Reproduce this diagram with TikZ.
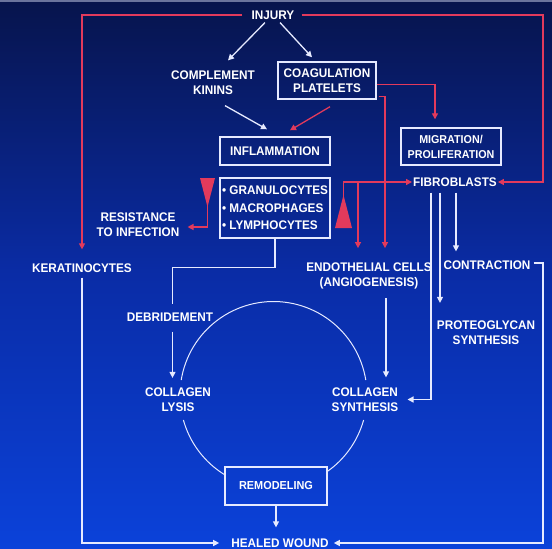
\documentclass[tikz,border=0pt]{standalone}
\usepackage{fontspec}
\newfontfamily\labfont{Liberation Sans}[FakeStretch=0.94]
\usetikzlibrary{arrows.meta,calc}
\definecolor{bgtop}{HTML}{07144C}
\definecolor{bgmid}{HTML}{0A2CA6}
\definecolor{bgbot}{HTML}{0B42DA}
\definecolor{lnw}{HTML}{E6EAFF}
\definecolor{lnr}{HTML}{E23A5C}
\begin{document}
\begin{tikzpicture}[x=1pt,y=-1pt,
  lbl/.style={text=white, font=\labfont\bfseries\fontsize{12.5}{15}\selectfont, align=center, inner sep=1pt},
  boxnode/.style={lbl, draw=lnw, line width=1.4pt, inner sep=0pt},
  wline/.style={draw=lnw, line width=1.3pt},
  rline/.style={draw=lnr, line width=1.3pt},
  tip/.style={-{Triangle[width=6pt,length=6pt]}},
]
\shade[top color=bgtop, bottom color=bgbot, middle color=bgmid] (0,0) rectangle (552,549);
\fill[color=lnw!45!bgtop] (0,0) rectangle (552,2);
\useasboundingbox (0,0) rectangle (552,549);

% nodes
\node[lbl] (injury) at (273,15) {INJURY};
\node[lbl] (compl) at (213,82.5) {COMPLEMENT\\KININS};
\node[boxnode, minimum width=98pt, minimum height=37pt] (coag) at (327,80.5) {COAGULATION\\PLATELETS};
\node[boxnode, minimum width=110pt, minimum height=28pt] (inflam) at (275,151) {INFLAMMATION};
\node[boxnode, minimum width=110pt, minimum height=60pt, align=left,
      font=\labfont\bfseries\fontsize{12.5}{17.5}\selectfont] (gran) at (275,208)
      {• GRANULOCYTES\\• MACROPHAGES\\• LYMPHOCYTES};
\node[boxnode, minimum width=100pt, minimum height=37pt,
      font=\labfont\bfseries\fontsize{11.4}{15}\selectfont] (migr) at (451,146.5) {MIGRATION/\\PROLIFERATION};
\node[lbl] (fibro) at (455,182) {FIBROBLASTS};
\node[lbl] (resist) at (138,225) {RESISTANCE\\TO INFECTION};
\node[lbl] (kerat) at (82,268) {KERATINOCYTES};
\node[lbl] (endo) at (369,275.5) {ENDOTHELIAL CELLS\\(ANGIOGENESIS)};
\node[lbl] (contr) at (487,265) {CONTRACTION};
\node[lbl] (debr) at (170,317) {DEBRIDEMENT};
\node[lbl] (proteo) at (486,333) {PROTEOGLYCAN\\SYNTHESIS};
\node[lbl] (lysis) at (178,399.5) {COLLAGEN\\LYSIS};
\node[lbl] (synth) at (365,399.5) {COLLAGEN\\SYNTHESIS};
\node[boxnode, minimum width=102pt, minimum height=38pt,
      font=\labfont\bfseries\fontsize{11.6}{15}\selectfont] (remod) at (276,486) {REMODELING};
\node[lbl] (healed) at (280,543) {HEALED WOUND};

\coordinate (rx) at (543,100);
\coordinate (rxb) at (543,400);
\coordinate (wedgeR) at (343.5,196);
\coordinate (wedgeL) at (207.5,206);

% red wedges
\fill[lnr] (335,228) -- (343.5,195) -- (352,228) -- cycle;
\fill[lnr] (200,178) -- (215,178) -- (207.5,207) -- cycle;

% red connectors
\draw[rline,tip] ($(injury.west)+(-8,0)$) -| ($(kerat.north)+(0,-13)$);
\draw[rline,tip] ($(injury.east)+(6,0)$) -| (rx) |- (fibro.east);
\draw[rline,tip] ($(coag.south)+(3,7)$) -- ($(inflam.north)+(15,-6)$);
\draw[rline,tip] ($(coag.east)+(0,4)$) -| ($(migr.north)+(-16,-8)$);
\draw[rline,tip] ($(coag.east)+(2,16)$) -| ($(endo.north)+(16,-13)$);
\draw[rline,tip] (wedgeR) |- (fibro.west);
\draw[rline,tip] ($(wedgeR|-fibro.west)+(14.5,0)$) -- ($(endo.north)+(-11,-13)$);
\draw[rline,tip] (wedgeL) |- ($(resist.east)+(7,2)$);

% white connectors
\draw[wline,tip] ($(injury.south)+(-8,2)$) -- ($(compl.north)+(15,-9)$);
\draw[wline,tip] ($(injury.south)+(7,2)$) -- ($(coag.north)+(-15,-4)$);
\draw[wline,tip] ($(compl.south)+(12,10)$) -- ($(inflam.north)+(-8,-7)$);
\draw[wline] (gran.south) -- ++(0,29) -| ($(debr.north)+(2.5,-8)$);
\draw[wline,tip] ($(debr.south)+(2.5,9)$) -- ($(lysis.north)+(-5.5,-8.5)$);
\draw[wline,tip] ($(endo.south)+(17,8)$) -- ($(synth.north)+(21,-9)$);
\draw[wline,tip] ($(fibro.south)+(-24,5)$) |- ($(synth.east)+(8,0)$);
\draw[wline,tip] ($(fibro.south)+(-15,5)$) -- ($(proteo.north)+(-46,-17)$);
\draw[wline,tip] ($(fibro.south)+(1,5)$) -- ($(contr.north)+(-31,-8)$);
\draw[wline,tip] ($(contr.east)+(2,-2)$) -| (rxb) |- ($(healed.east)+(4,0)$);
\draw[wline,tip] ($(kerat.south)+(0,4)$) |- ($(healed.west)+(-11,0)$);
\draw[wline,tip] (remod.south) -- ($(remod.south|-healed.north)+(0,-10)$);

% collagen cycle
\draw[wline,line width=1pt] plot[smooth,domain=-170.8:-9.2,samples=60] ({273.5+93.5*cos(\x)},{395+93.5*sin(\x)});
\draw[wline,line width=1pt] plot[smooth,domain=121.3:164.5,samples=30] ({273.5+93.5*cos(\x)},{395+93.5*sin(\x)});
\draw[wline,line width=1pt] plot[smooth,domain=15.5:55.1,samples=30] ({273.5+93.5*cos(\x)},{395+93.5*sin(\x)});
\end{tikzpicture}
\end{document}
